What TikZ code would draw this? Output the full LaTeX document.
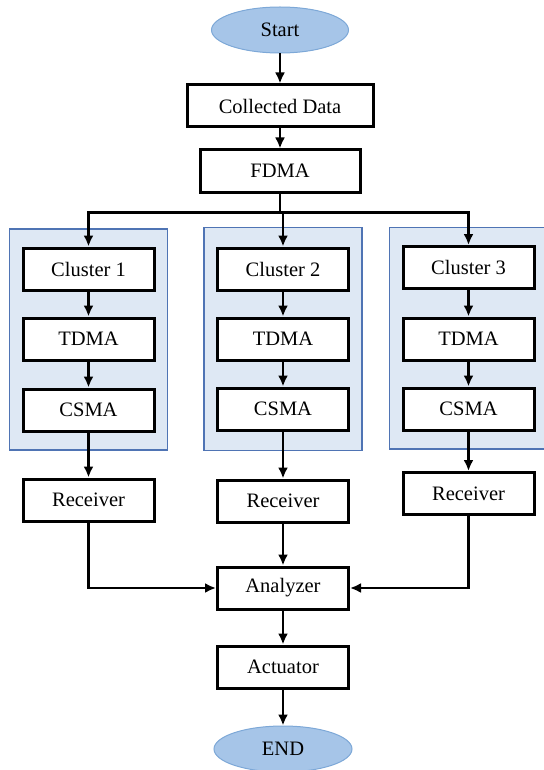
\documentclass[tikz,border=0pt]{standalone}
\usepackage{fontspec}
\setmainfont{Liberation Serif}
\usepackage{tikz}
\usetikzlibrary{arrows.meta,shapes.geometric,fit,backgrounds}
\definecolor{groupfill}{RGB}{222,232,244}
\definecolor{groupline}{RGB}{79,116,180}
\definecolor{termfill}{RGB}{166,197,232}
\definecolor{termline}{RGB}{125,168,215}
\tikzstyle{every node}=[font=\fontsize{20.5}{24}\selectfont]
\tikzstyle{stage}=[rectangle,
                   line width=3pt,
                   draw=black,
                   fill=white,
                   minimum width=131pt,
                   minimum height=42pt,
                   inner sep=0pt
                   ]
\tikzstyle{terminal}=[ellipse,
                      line width=1pt,
                      draw=termline,
                      fill=termfill,
                      minimum width=137pt,
                      minimum height=46pt,
                      inner sep=0pt]
\tikzstyle{group}=[rectangle,
                   line width=1.5pt,
                   draw=groupline,
                   fill=groupfill,
                   inner xsep=12pt,
                   inner ysep=17.5pt]

\begin{document}
\begin{tikzpicture}[>={Latex[length=11pt,width=10pt]},line width=2.8pt]
\useasboundingbox (0pt,0pt) rectangle (543pt,-770pt);
\node (start)   [terminal] at (280pt,-30pt) {Start};
\node (data)   [stage,minimum width=186pt,below of=start,node distance=76pt] {Collected Data};
\node (fdma)   [stage,minimum width=160pt,below of=data,node distance=65pt] {FDMA};
\coordinate (split) at ([yshift=-19pt]fdma.south);
% cluster columns
\node (cl2)   [stage,below of=fdma,node distance=98pt,xshift=3pt] {Cluster 2};
\node (cl1)   [stage,left of=cl2,node distance=194.5pt] {Cluster 1};
\node (cl3)   [stage,right of=cl2,node distance=185.5pt,yshift=1.5pt] {Cluster 3};
\node (tdma1)   [stage,below of=cl1,node distance=70pt] {TDMA};
\node (tdma2)   [stage,below of=cl2,node distance=70pt] {TDMA};
\node (tdma3)   [stage,below of=cl3,node distance=71.5pt] {TDMA};
\node (csma1)   [stage,below of=tdma1,node distance=71pt] {CSMA};
\node (csma2)   [stage,below of=tdma2,node distance=70pt] {CSMA};
\node (csma3)   [stage,below of=tdma3,node distance=70pt] {CSMA};
\begin{scope}[on background layer]
 \node (grp1)   [group,fit=(cl1)(csma1)] {};
 \node (grp2)   [group,fit=(cl2)(csma2),inner ysep=19pt] {};
 \node (grp3)   [group,fit=(cl3)(csma3),inner xsep=14pt,xshift=2pt] {};
\end{scope}
% receivers and end
\node (rec1)   [stage,below of=csma1,node distance=90pt] {Receiver};
\node (rec2)   [stage,below of=csma2,node distance=92pt] {Receiver};
\node (rec3)   [stage,below of=csma3,node distance=84.5pt] {Receiver};
\node (ana)   [stage,below of=rec2,node distance=87pt] {Analyzer};
\node (act)   [stage,below of=ana,node distance=79pt] {Actuator};
\node (end)   [terminal,minimum width=138pt,below of=act,node distance=82pt] {END};
 \draw[->] (start) -- (data);
 \draw[->] (data) -- (fdma);
 \draw (fdma) -- (split);
 \draw[->] (split) -| (cl1);
 \draw[->] (split) -| (cl2);
 \draw[->] (split) -| (cl3);
 \draw[->] (cl1) -- (tdma1);
 \draw[->] (cl2) -- (tdma2);
 \draw[->] (cl3) -- (tdma3);
 \draw[->] (tdma1) -- (csma1);
 \draw[->] (tdma2) -- (csma2);
 \draw[->] (tdma3) -- (csma3);
 \draw[->] (csma1) -- (rec1);
 \draw[->] (csma2) -- (rec2);
 \draw[->] (csma3) -- (rec3);
 \draw[->] (rec1) |- (ana);
 \draw[->] (rec2) -- (ana);
 \draw[->] (rec3) |- (ana);
 \draw[->] (ana) -- (act);
 \draw[->] (act) -- (end);
\end{tikzpicture}
\end{document}
